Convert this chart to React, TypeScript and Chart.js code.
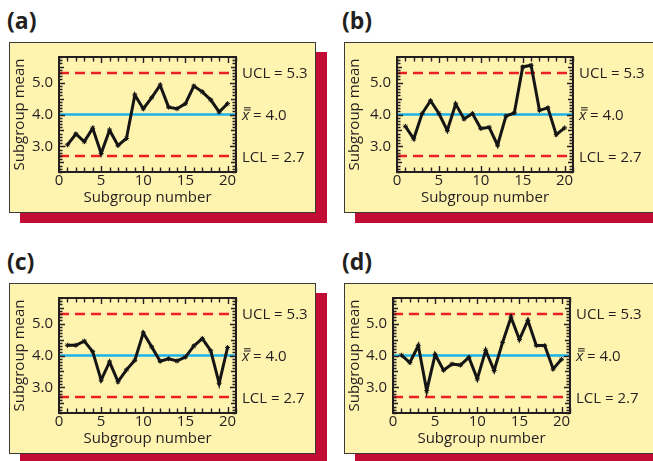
import React, { useEffect, useRef } from "react";
import { Chart, registerables } from "chart.js";

Chart.register(...registerables);

// ---- data ----
const subgroups = [1, 2, 3, 4, 5, 6, 7, 8, 9, 10, 11, 12, 13, 14, 15, 16, 17, 18, 19, 20];
const meansA = [3.05, 3.39, 3.15, 3.57, 2.78, 3.51, 3.03, 3.25, 4.61, 4.18, 4.53, 4.92, 4.23, 4.18, 4.34, 4.89, 4.71, 4.46, 4.08, 4.34];
const meansB = [3.63, 3.24, 4.03, 4.43, 4.03, 3.5, 4.33, 3.86, 4.03, 3.56, 3.6, 3.04, 3.95, 4.05, 5.49, 5.54, 4.13, 4.21, 3.37, 3.58];
const meansC = [4.32, 4.32, 4.45, 4.12, 3.23, 3.8, 3.18, 3.55, 3.85, 4.71, 4.27, 3.82, 3.9, 3.83, 3.95, 4.3, 4.53, 4.15, 3.13, 4.25];
const meansD = [4.01, 3.78, 4.31, 2.9, 4.03, 3.54, 3.73, 3.7, 3.94, 3.27, 4.16, 3.53, 4.41, 5.2, 4.5, 5.1, 4.31, 4.31, 3.58, 3.88];
const UCL = 5.3;
const CENTER = 4.0;
const LCL = 2.7;
const xTicks = [0, 5, 10, 15, 20];
const yTicks = [3.0, 4.0, 5.0];
const X_MIN = 0;
const X_MAX = 21;
const Y_MIN = 2.2;
const Y_MAX = 5.8;

const INK = "#231f20";
const FONT = '"Open Sans", sans-serif';
const FS = 15;

type PanelSpec = {
  title: string;
  values: number[];
  box: { left: number; top: number; width: number; height: number };
  plotLeft: number;
  plotRight: number;
  titlePos: { left: number; top: number };
};

const panels: PanelSpec[] = [
  { title: "(a)", values: meansA, box: { left: 9, top: 42, width: 307, height: 171 }, plotLeft: 50, plotRight: 227, titlePos: { left: 7, top: 4 } },
  { title: "(b)", values: meansB, box: { left: 344, top: 42, width: 320, height: 171 }, plotLeft: 53, plotRight: 229, titlePos: { left: 342, top: 4 } },
  { title: "(c)", values: meansC, box: { left: 9, top: 283, width: 307, height: 171 }, plotLeft: 50, plotRight: 227, titlePos: { left: 7, top: 245 } },
  { title: "(d)", values: meansD, box: { left: 344, top: 283, width: 320, height: 171 }, plotLeft: 49, plotRight: 226, titlePos: { left: 342, top: 245 } },
];

const framePlugin = {
  id: "frameTicks",
  afterDraw(chart: any) {
    const { ctx, chartArea, scales } = chart;
    const xs = scales.x;
    const ys = scales.y;
    ctx.save();
    ctx.strokeStyle = INK;
    ctx.lineWidth = 2;
    ctx.strokeRect(chartArea.left, chartArea.top, chartArea.right - chartArea.left, chartArea.bottom - chartArea.top);
    ctx.lineWidth = 1.4;
    ctx.beginPath();
    for (let v = X_MIN; v <= X_MAX; v += 1) {
      const px = Math.round(xs.getPixelForValue(v)) + 0.5;
      const len = v % 5 === 0 ? 6 : 4.5;
      ctx.moveTo(px, chartArea.bottom);
      ctx.lineTo(px, chartArea.bottom - len);
      ctx.moveTo(px, chartArea.top);
      ctx.lineTo(px, chartArea.top + len);
    }
    for (let i = Math.round(Y_MIN * 10); i <= Math.round(Y_MAX * 10); i++) {
      const v = i / 10;
      const py = Math.round(ys.getPixelForValue(v)) + 0.5;
      const len = i % 10 === 0 ? 6 : i % 5 === 0 ? 5 : 3.5;
      ctx.moveTo(chartArea.left, py);
      ctx.lineTo(chartArea.left + len, py);
      ctx.moveTo(chartArea.right, py);
      ctx.lineTo(chartArea.right - len, py);
    }
    ctx.stroke();

    // right-side limit labels
    const x0 = chartArea.right + 6;
    ctx.fillStyle = INK;
    ctx.textAlign = "left";
    ctx.textBaseline = "alphabetic";
    ctx.font = `${FS}px ${FONT}`;
    ctx.fillText(`UCL = ${UCL.toFixed(1)}`, x0, ys.getPixelForValue(UCL) + 5.5);
    ctx.fillText(`LCL = ${LCL.toFixed(1)}`, x0, ys.getPixelForValue(LCL) + 5.5);
    const by = ys.getPixelForValue(CENTER) + 5.5;
    ctx.font = `italic ${FS}px ${FONT}`;
    ctx.fillText("x", x0, by);
    const wx = ctx.measureText("x").width;
    ctx.lineWidth = 1.1;
    ctx.beginPath();
    ctx.moveTo(x0 + 2, by - 10);
    ctx.lineTo(x0 + wx + 1.5, by - 10);
    ctx.moveTo(x0 + 2, by - 12.2);
    ctx.lineTo(x0 + wx + 1.5, by - 12.2);
    ctx.stroke();
    ctx.font = `${FS}px ${FONT}`;
    ctx.fillText(` = ${CENTER.toFixed(1)}`, x0 + wx, by);
    ctx.restore();
  },
};

function Panel({ spec }: { spec: PanelSpec }) {
  const ref = useRef<HTMLCanvasElement | null>(null);
  useEffect(() => {
    if (!ref.current) return;
    const { box, plotLeft, plotRight, values } = spec;
    const chart = new Chart(ref.current, {
      type: "line",
      data: {
        datasets: [
          {
            label: "Subgroup mean",
            data: subgroups.map((s, i) => ({ x: s, y: values[i] })),
            borderColor: "#151515",
            borderWidth: 3,
            pointStyle: "star",
            pointRadius: 2.5,
            pointBorderColor: "#151515",
            pointBorderWidth: 1,
            tension: 0,
          },
          {
            label: "UCL",
            data: [{ x: X_MIN, y: UCL }, { x: X_MAX, y: UCL }],
            borderColor: "#ec2127",
            borderWidth: 2.6,
            borderDash: [10, 6],
            pointRadius: 0,
          },
          {
            label: "Center",
            data: [{ x: X_MIN, y: CENTER }, { x: X_MAX, y: CENTER }],
            borderColor: "#1ab2e8",
            borderWidth: 2.6,
            pointRadius: 0,
          },
          {
            label: "LCL",
            data: [{ x: X_MIN, y: LCL }, { x: X_MAX, y: LCL }],
            borderColor: "#ec2127",
            borderWidth: 2.6,
            borderDash: [10, 6],
            pointRadius: 0,
          },
        ],
      },
      options: {
        animation: false,
        responsive: false,
        maintainAspectRatio: false,
        layout: { padding: { left: 0, right: box.width - plotRight, top: 11, bottom: 0 } },
        plugins: { legend: { display: false }, tooltip: { enabled: false } },
        scales: {
          x: {
            type: "linear",
            min: X_MIN,
            max: X_MAX,
            afterBuildTicks: (s: any) => {
              s.ticks = xTicks.map((v) => ({ value: v }));
            },
            afterFit: (s: any) => {
              s.height = box.height - 130;
            },
            grid: { display: false, drawTicks: false },
            border: { display: false },
            ticks: { padding: 0, color: INK, font: { family: FONT, size: FS }, maxRotation: 0, autoSkip: false },
            title: { display: true, text: "Subgroup number", color: INK, font: { family: FONT, size: FS }, padding: { top: 0, bottom: 6.5 } },
          },
          y: {
            type: "linear",
            min: Y_MIN,
            max: Y_MAX,
            afterBuildTicks: (s: any) => {
              s.ticks = yTicks.map((v) => ({ value: v }));
            },
            afterFit: (s: any) => {
              s.width = plotLeft;
            },
            grid: { display: false, drawTicks: false },
            border: { display: false },
            ticks: { padding: 6, color: INK, font: { family: FONT, size: FS }, callback: (v: any) => Number(v).toFixed(1) },
            title: { display: true, text: "Subgroup mean", color: INK, font: { family: FONT, size: FS }, padding: { top: 1.5, bottom: 0 } },
          },
        },
      },
      plugins: [framePlugin],
    } as any);
    return () => chart.destroy();
  }, [spec]);

  const { box, titlePos } = spec;
  return (
    <>
      <div
        style={{
          position: "absolute",
          left: titlePos.left,
          top: titlePos.top,
          font: `bold 23px ${FONT}`,
          lineHeight: "32px",
          color: INK,
        }}
      >
        {spec.title}
      </div>
      <div
        style={{
          position: "absolute",
          left: box.left + 11,
          top: box.top + 10,
          width: box.width,
          height: box.height,
          background: "#c30c34",
        }}
      />
      <div
        style={{
          position: "absolute",
          left: box.left,
          top: box.top,
          width: box.width,
          height: box.height,
          background: "#fff3b0",
          boxSizing: "border-box",
        }}
      >
        <canvas ref={ref} width={box.width} height={box.height} style={{ display: "block" }} />
        <div
          style={{
            position: "absolute",
            left: 0,
            top: 0,
            width: box.width,
            height: box.height,
            border: "1px solid #3a3a3a",
            boxSizing: "border-box",
            pointerEvents: "none",
          }}
        />
      </div>
    </>
  );
}

export default function App() {
  return (
    <div
      style={{
        position: "absolute",
        left: 0,
        top: 0,
        width: 653,
        height: 461,
        overflow: "hidden",
        background: "#ffffff",
      }}
    >
      {panels.map((p) => (
        <Panel key={p.title} spec={p} />
      ))}
    </div>
  );
}
